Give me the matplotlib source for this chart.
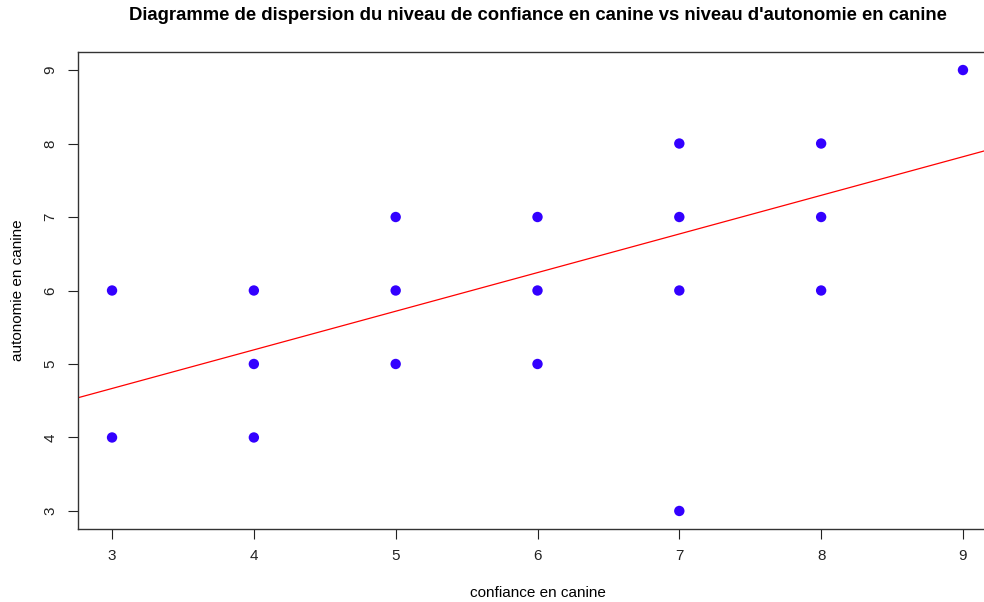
import matplotlib
matplotlib.use("Agg")
import matplotlib.pyplot as plt
import numpy as np

# données
confiance = [3, 3, 4, 4, 4, 5, 5, 5, 6, 6, 6, 7, 7, 7, 7, 8, 8, 8, 9]
autonomie = [6, 4, 6, 5, 4, 7, 6, 5, 7, 6, 5, 8, 7, 6, 3, 8, 7, 6, 9]
# droite de régression (abline) : ordonnée à l'origine, pente
coef_reg = [3.09, 0.5256]
ticks = [3, 4, 5, 6, 7, 8, 9]

plt.rcParams['font.family'] = ['Liberation Sans', 'DejaVu Sans']

fig = plt.figure(figsize=(9.84, 6.02), dpi=100)
ax = fig.add_axes([78 / 984, 1 - 528.6 / 602, 919 / 984, 476.2 / 602])

ax.scatter(confiance, autonomie, s=56, color="#3300ff", edgecolors="none", zorder=3)

xs = np.array([2.5, 9.5])
ax.plot(xs, coef_reg[0] + coef_reg[1] * xs, color="red", lw=0.9, zorder=2)

ax.set_xlim(2.76, 9.24)
ax.set_ylim(2.76, 9.24)
ax.set_xticks(ticks)
ax.set_yticks(ticks)
ax.tick_params(direction="out", length=7, width=0.8, colors="#222222", labelsize=11, pad=8)
for lab in ax.get_yticklabels():
    lab.set_rotation(90)
    lab.set_va("center")
for sp in ax.spines.values():
    sp.set_linewidth(1.0)
    sp.set_color("#333333")

fig.text(538 / 984, 1 - 16 / 602, "Diagramme de dispersion du niveau de confiance en canine vs niveau d'autonomie en canine",
         ha="center", va="center", fontsize=13.3, fontweight="bold")
fig.text(538 / 984, 1 - 593 / 602, "confiance en canine", ha="center", va="center", fontsize=11)
fig.text(18 / 984, 1 - 290 / 602, "autonomie en canine", ha="center", va="center", rotation=90, fontsize=11)

fig.savefig("out.png", dpi=100)
